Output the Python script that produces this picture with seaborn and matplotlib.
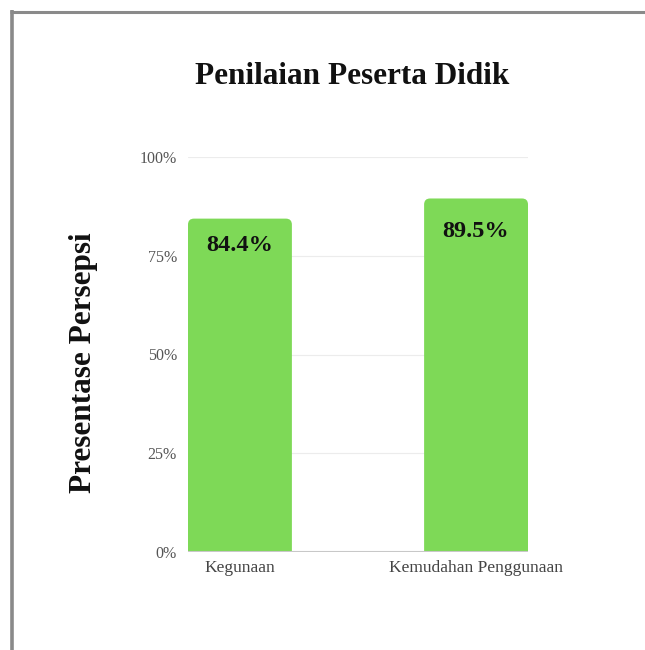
import matplotlib
matplotlib.use("Agg")
import matplotlib.pyplot as plt
import seaborn as sns
import pandas as pd
from matplotlib.patches import FancyBboxPatch
from matplotlib.lines import Line2D

categories = ["Kegunaan", "Kemudahan Penggunaan"]
values = [84.4, 89.5]
value_labels = ["84.4%", "89.5%"]
yticks = [0, 25, 50, 75, 100]
ytick_labels = ["0%", "25%", "50%", "75%", "100%"]

sns.set_theme(style="white")
plt.rcParams["font.family"] = ["Liberation Serif", "DejaVu Serif"]

df = pd.DataFrame({"cat": categories, "val": values})

fig = plt.figure(figsize=(6.45, 6.5), dpi=100)
ax = fig.add_axes([188/645, 98/650, 340/645, 395/650])

sns.barplot(data=df, x="cat", y="val", color="#7ED957", width=0.44, ax=ax, saturation=1)

ax.set_xlim(-0.22, 1.22)
ax.set_ylim(0, 100)

# rounded tops
xpx = 340 / 1.44
ypx = 395 / 100
aspect = xpx / ypx
r = 6 / xpx
for p in list(ax.patches):
    x, y, w, h = p.get_x(), p.get_y(), p.get_width(), p.get_height()
    fb = FancyBboxPatch((x, y - 10), w, h + 10,
                        boxstyle=f"round,pad=0,rounding_size={r}",
                        mutation_aspect=aspect, facecolor="#7ED957",
                        edgecolor="none", zorder=2)
    p.remove()
    ax.add_patch(fb)

offsets = [-27, -33]
for i, (v, lab) in enumerate(zip(values, value_labels)):
    ax.annotate(lab, (i, v), xytext=(0, offsets[i] * 0.72), textcoords="offset points",
                ha="center", va="center", fontsize=17.5, fontweight="bold", color="#111111")

ax.set_yticks(yticks)
ax.set_yticklabels(ytick_labels, fontsize=11.5, color="#555555")
ax.tick_params(axis="y", length=0, pad=8)
ax.tick_params(axis="x", length=0, pad=6, labelsize=12.5, labelcolor="#444444")
for s in ax.spines.values():
    s.set_visible(False)
for t in yticks[1:]:
    ax.axhline(t, color="#ececec", lw=0.8, zorder=0)
ax.axhline(0, color="#c8c8c8", lw=1.5, zorder=3)
ax.set_xlabel("")
ax.set_ylabel("Presentase Persepsi", fontsize=22.5, fontweight="bold", color="#111111")
ax.yaxis.set_label_coords(-0.265, 0.5 - 8/395, transform=ax.transAxes)

fig.text(352/645, 1 - 76/650, "Penilaian Peserta Didik", ha="center", va="center",
         fontsize=22.5, fontweight="bold", color="#111111")

# frame lines
fig.add_artist(Line2D([10/645, 1], [1 - 11.5/650, 1 - 11.5/650], color="#8a8a8a", lw=2.2,
                      transform=fig.transFigure, solid_capstyle="butt"))
fig.add_artist(Line2D([12/645, 12/645], [0, 1 - 10/650], color="#8a8a8a", lw=2.6,
                      transform=fig.transFigure, solid_capstyle="butt"))

fig.savefig("out.png", dpi=100)
